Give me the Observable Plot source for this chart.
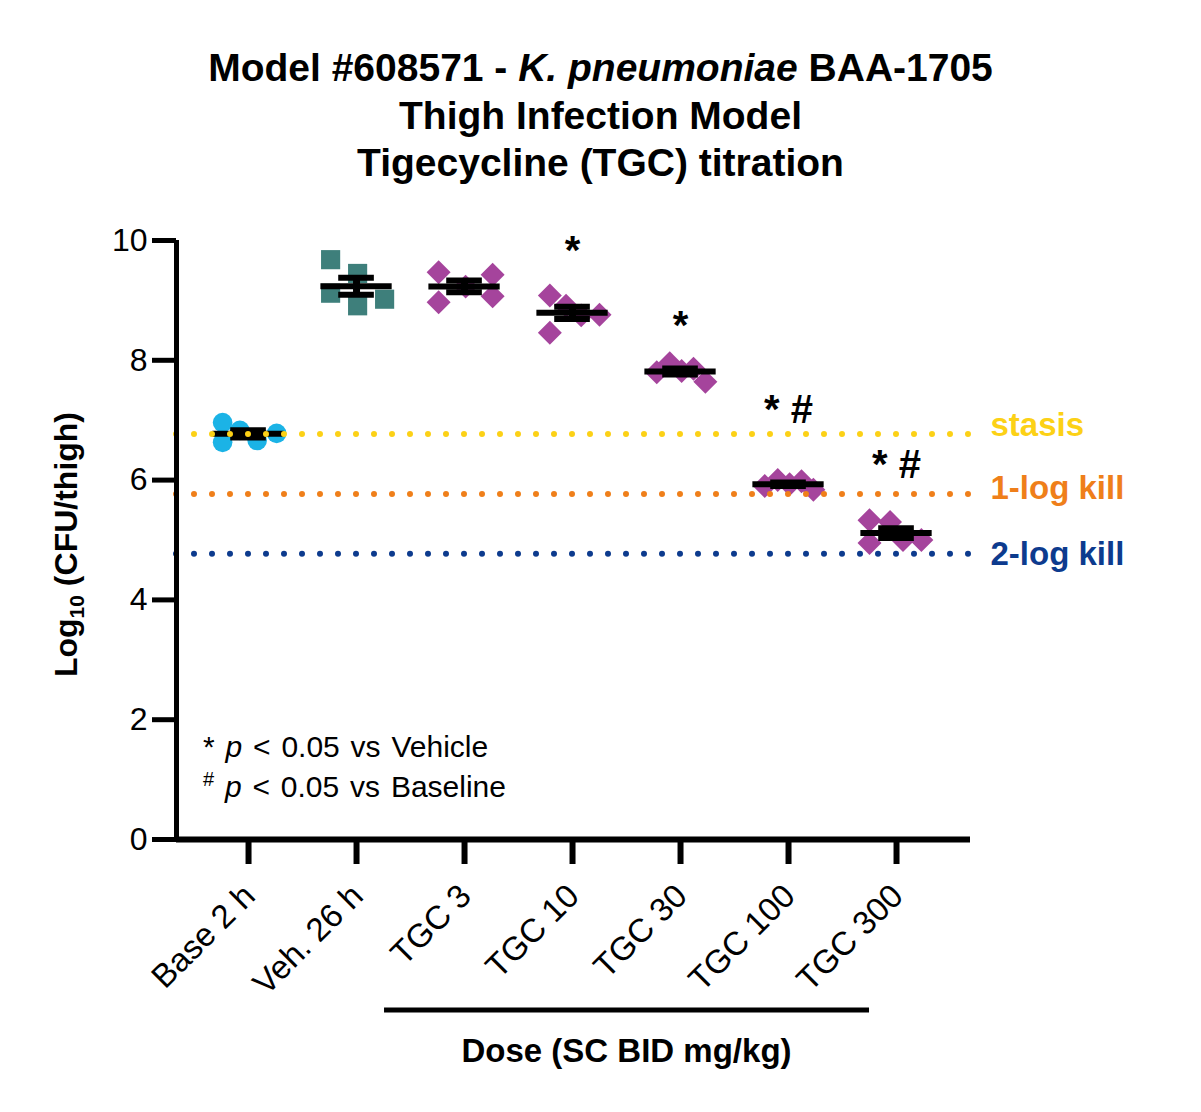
<!DOCTYPE html>
<html>
<head>
<meta charset="utf-8">
<script src="https://cdn.jsdelivr.net/npm/d3@7"></script>
<script src="https://cdn.jsdelivr.net/npm/@observablehq/plot@0.6"></script>
<style>
  html, body { margin: 0; padding: 0; background: #fff; }
  body { width: 1201px; font-family: "Liberation Sans", Arial, Helvetica, sans-serif; color: #000; }
  #title { box-sizing: border-box; height: 200px; padding-top: 44px; text-align: center;
           font-weight: bold; font-size: 39px; line-height: 47.5px; }
  #chart svg { display: block; overflow: visible; }
</style>
</head>
<body>
<div id="title">
  <div>Model #608571 - <i>K. pneumoniae</i> BAA-1705</div>
  <div>Thigh Infection Model</div>
  <div>Tigecycline (TGC) titration</div>
</div>
<div id="chart"></div>
<script>
// ---------- data ----------
const groups = ["Base 2 h", "Veh. 26 h", "TGC 3", "TGC 10", "TGC 30", "TGC 100", "TGC 300"];
const base2h = [6.96, 6.63, 6.83, 6.66, 6.78];
const veh26h = [9.68, 9.45, 9.12, 8.91, 9.02];
const tgc3   = [9.47, 8.97, 9.43, 9.07, 9.23];
const tgc10  = [9.08, 8.46, 8.91, 8.75, 8.76];
const tgc30  = [7.80, 7.95, 7.82, 7.86, 7.64];
const tgc100 = [5.90, 6.00, 5.93, 5.98, 5.84];
const tgc300 = [5.33, 4.95, 5.30, 5.00, 5.00];
const seriesValues = [base2h, veh26h, tgc3, tgc10, tgc30, tgc100, tgc300];
// horizontal scatter of each replicate inside its column (fraction of a column step)
const spread = [
  [-0.24, -0.24, -0.08, 0.08, 0.26],
  [-0.24, 0.01, -0.24, 0.01, 0.26],
  [-0.24, -0.24, 0.26, 0.26, 0.01],
  [-0.21, -0.21, -0.06, 0.08, 0.25],
  [-0.22, -0.10, 0.01, 0.12, 0.23],
  [-0.22, -0.10, 0.01, 0.12, 0.23],
  [-0.25, -0.25, -0.06, 0.06, 0.23]
];
const groupSymbol = ["circle", "square", "diamond2", "diamond2", "diamond2", "diamond2", "diamond2"];
const groupColor = ["#1BB3E6", "#3E7F7B", "#A5449C", "#A5449C", "#A5449C", "#A5449C", "#A5449C"];
const significance = ["", "", "", "*", "*", "* #", "* #"];
const significanceY = [NaN, NaN, NaN, 9.60, 8.36, 6.96, 6.04];
const refLevels = [6.77, 5.77, 4.77];
const refLabels = ["stasis", "1-log kill", "2-log kill"];
const refColors = ["#FCD116", "#EF7F1A", "#0D3B8E"];
const refLabelDy = [2, 5, 11];
const yTicks = [0, 2, 4, 6, 8, 10];

// ---------- derived tables ----------
const points = seriesValues.flatMap((vals, g) => vals.map((v, k) => ({g, v, x: g + spread[g][k]})));
const stats = seriesValues.map((vals, g) => ({
  g, mean: d3.mean(vals), sem: d3.deviation(vals) / Math.sqrt(vals.length)
}));
const sig = significance.map((s, g) => ({g, s, y: significanceY[g]})).filter(d => d.s);
const refs = refLevels.map((v, i) => ({v, label: refLabels[i], color: refColors[i], dy: refLabelDy[i]}));

const xDomain = [-0.667, 6.685];
const FONT = "Liberation Sans, Arial, Helvetica, sans-serif";

const plot = Plot.plot({
  width: 1201,
  height: 912,
  marginLeft: 176,
  marginRight: 231,
  marginTop: 40,
  marginBottom: 273,
  x: {domain: xDomain, axis: null},
  y: {domain: [0, 10], axis: null},
  style: {fontFamily: FONT, color: "#000", background: "#fff", overflow: "visible"},
  marks: [
    ...groups.map((_, g) => Plot.dot(points.filter(p => p.g === g), {
      x: "x", y: "v", symbol: groupSymbol[g],
      r: groupSymbol[g] === "circle" ? 9.8 : 10.8,
      fill: groupColor[g], stroke: "none"
    })),
    Plot.ruleX(stats, {x: "g", y1: d => d.mean - d.sem, y2: d => d.mean + d.sem, stroke: "#000", strokeWidth: 7}),
    Plot.ruleY(stats, {y: d => d.mean + d.sem, x1: d => d.g - 0.165, x2: d => d.g + 0.165, stroke: "#000", strokeWidth: 6}),
    Plot.ruleY(stats, {y: d => d.mean - d.sem, x1: d => d.g - 0.165, x2: d => d.g + 0.165, stroke: "#000", strokeWidth: 6}),
    Plot.ruleY(stats, {y: "mean", x1: d => d.g - 0.33, x2: d => d.g + 0.33, stroke: "#000", strokeWidth: 6}),
    ...refs.map(r => Plot.ruleY([r], {y: "v", stroke: r.color, strokeWidth: 6, strokeDasharray: "0 18", strokeLinecap: "round"})),
    ...refs.map(r => Plot.text([r], {
      x: xDomain[1], y: "v", text: "label", fill: r.color, textAnchor: "start", lineAnchor: "bottom",
      dx: 20, dy: r.dy, fontSize: 33, fontWeight: "bold"
    })),
    Plot.text(sig, {x: "g", y: "y", text: "s", lineAnchor: "bottom", fontSize: 40, fontWeight: "bold", fill: "#000"}),
    Plot.axisY({ticks: yTicks, tickSize: 24, strokeWidth: 5, fontSize: 32, tickPadding: 5, label: null, tickFormat: d => String(d)}),
    // x ticks (lines only)
    Plot.axisX({ticks: d3.range(groups.length), tickSize: 25, strokeWidth: 6, text: null, label: null}),
    // x tick labels (rotated)
    Plot.axisX({ticks: d3.range(groups.length), tickFormat: i => groups[i], tickSize: 0,
      tickRotate: -45, fontSize: 33, tickPadding: 8, dx: 1, dy: 43, label: null}),
    Plot.ruleX([xDomain[0]], {stroke: "#000", strokeWidth: 5}),
    Plot.ruleY([0], {stroke: "#000", strokeWidth: 6})
  ]
});

document.getElementById("chart").appendChild(plot);

// ---------- extra annotations drawn with the plot's own scales ----------
const svg = d3.select(plot);
const xs = plot.scale("x");
const ys = plot.scale("y");

// y axis title with subscript
const yl = svg.append("text")
  .attr("transform", `translate(77, ${(ys.apply(0) + ys.apply(10)) / 2 + 5}) rotate(-90)`)
  .attr("text-anchor", "middle")
  .attr("font-family", FONT)
  .attr("font-weight", "bold")
  .attr("font-size", 32)
  .attr("fill", "#000");
yl.append("tspan").text("Log");
yl.append("tspan").attr("font-size", 21).attr("dy", 7).text("10");
yl.append("tspan").attr("dy", -7).text(" (CFU/thigh)");

// significance legend
const legX = xs.apply(xDomain[0]) + 27;
const l1 = svg.append("text").attr("x", legX).attr("y", ys.apply(1.37)).attr("text-anchor", "start")
  .attr("font-family", FONT).attr("font-size", 30).attr("fill", "#000").attr("word-spacing", 2.5);
l1.append("tspan").text("* ");
l1.append("tspan").attr("font-style", "italic").text("p");
l1.append("tspan").text(" < 0.05 vs Vehicle");
const l2 = svg.append("text").attr("x", legX).attr("y", ys.apply(0.70)).attr("text-anchor", "start")
  .attr("font-family", FONT).attr("font-size", 30).attr("fill", "#000").attr("word-spacing", 2.5);
l2.append("tspan").attr("font-size", 20).attr("dy", -11).text("#");
l2.append("tspan").attr("dy", 11).text(" ");
l2.append("tspan").attr("font-style", "italic").text("p");
l2.append("tspan").text(" < 0.05 vs Baseline");

// dose bracket under the TGC groups
const bx1 = xs.apply(2) - 80, bx2 = xs.apply(6) - 27;
const by = ys.apply(0) + 171;
svg.append("line").attr("x1", bx1).attr("x2", bx2).attr("y1", by).attr("y2", by)
  .attr("stroke", "#000").attr("stroke-width", 5);
svg.append("text").attr("x", (bx1 + bx2) / 2).attr("y", by + 52)
  .attr("text-anchor", "middle").attr("font-family", FONT).attr("font-weight", "bold")
  .attr("font-size", 33).attr("fill", "#000").text("Dose (SC BID mg/kg)");
</script>
</body>
</html>
